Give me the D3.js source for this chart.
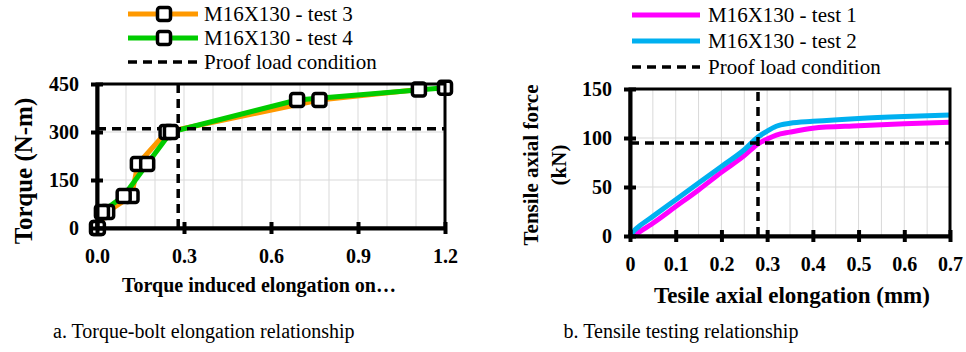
<!DOCTYPE html>
<html>
<head>
<meta charset="utf-8">
<script src="https://cdn.jsdelivr.net/npm/d3@7"></script>
<style>
  body { margin: 0; background: #fff; }
  svg, svg text { font-family: "Liberation Serif", "Times New Roman", serif; fill: #000; }
  .tick text { font-weight: bold; font-size: 20px; font-family: "Liberation Serif", serif; }
  .grid-line { stroke: #d9d9d9; stroke-width: 1; }
  .proof-line { stroke: #000; stroke-width: 3.5; stroke-dasharray: 9 6; fill: none; }
</style>
</head>
<body>
<div id="chart"></div>
<script>
// ---- data: torque vs elongation (left panel) ----
const test3Elong = [0, 0.035, 0.119, 0.141, 0.24, 0.767, 1.11];
const test4Elong = [0.003, 0.017, 0.092, 0.173, 0.255, 0.69, 1.2];
const test3Torque = [0, 50, 100, 200, 300, 400, 433];
const test4Torque = [0, 50, 100, 200, 300, 400, 438];
const torqueTicks = [0, 150, 300, 450];
const elongTicksA = [0, 0.3, 0.6, 0.9, 1.2];
const proofA = { x: 0.28, y: 310 };

// ---- data: tensile test (right panel) ----
const tensileElong = [0, 0.01, 0.02, 0.05, 0.1, 0.15, 0.2, 0.25, 0.28, 0.3, 0.32, 0.35, 0.4, 0.5, 0.6, 0.7];
const test1Force = [0, 1, 4, 13, 30, 47, 65, 82, 94, 99, 103, 106, 110, 112.5, 114.5, 116];
const test2Force = [0, 6, 10, 20, 37, 54, 71, 88, 101, 107, 112, 115, 117, 120, 122, 123.5];
const forceTicks = [0, 50, 100, 150];
const elongTicksB = [0, 0.1, 0.2, 0.3, 0.4, 0.5, 0.6, 0.7];
const proofB = { x: 0.28, y: 95 };

const width = 966;
const height = 352;
const serif = '"Liberation Serif", "Times New Roman", serif';

const svg = d3.select('#chart')
    .append('svg')
    .attr('width', width)
    .attr('height', height)
    .attr('font-family', serif);

function drawGrid(g, xScale, yScale, xGrid, yGrid) {
    const [x0, x1] = xScale.range();
    const [y0, y1] = yScale.range();

    g.selectAll('line.vgrid')
        .data(xGrid)
        .enter()
        .append('line')
        .classed('grid-line', true)
        .attr('x1', d => xScale(d)).attr('x2', d => xScale(d))
        .attr('y1', y0).attr('y2', y1);

    g.selectAll('line.hgrid')
        .data(yGrid)
        .enter()
        .append('line')
        .classed('grid-line', true)
        .attr('x1', x0).attr('x2', x1)
        .attr('y1', d => yScale(d)).attr('y2', d => yScale(d));
}

function finishAxes(g, xScale, yScale, xTicks, yTicks, xFmt) {
    const [x0, x1] = xScale.range();
    const [y0, y1] = yScale.range();

    // frame
    g.append('rect')
        .attr('x', x0).attr('y', y1)
        .attr('width', x1 - x0).attr('height', y0 - y1)
        .attr('fill', 'none')
        .attr('stroke', '#000')
        .attr('stroke-width', 3);

    const xAxis = d3.axisBottom(xScale)
        .tickValues(xTicks)
        .tickFormat(xFmt)
        .tickSizeInner(6)
        .tickSizeOuter(0)
        .tickPadding(10);

    const yAxis = d3.axisLeft(yScale)
        .tickValues(yTicks)
        .tickFormat(d3.format('d'))
        .tickSizeInner(6)
        .tickSizeOuter(0)
        .tickPadding(12);

    const gx = g.append('g')
        .attr('transform', 'translate(0,' + y0 + ')')
        .call(xAxis)
        .attr('font-family', serif)
        .attr('font-size', 20)
        .attr('font-weight', 'bold');
    gx.select('.domain').attr('stroke-width', 4);
    gx.selectAll('.tick line').attr('y1', -6).attr('y2', 6).attr('stroke-width', 4);
    gx.selectAll('.tick text').attr('dy', '0.95em');

    const gy = g.append('g')
        .attr('transform', 'translate(' + x0 + ',0)')
        .call(yAxis)
        .attr('font-family', serif)
        .attr('font-size', 20)
        .attr('font-weight', 'bold');
    gy.select('.domain').attr('stroke-width', 4);
    gy.selectAll('.tick line').attr('x1', -6).attr('x2', 6).attr('stroke-width', 4);
}

function proofLines(g, xScale, yScale, p) {
    const [x0, x1] = xScale.range();
    const [y0, y1] = yScale.range();
    g.append('line')
        .classed('proof-line', true)
        .attr('x1', xScale(p.x)).attr('x2', xScale(p.x))
        .attr('y1', y0).attr('y2', y1);
    g.append('line')
        .classed('proof-line', true)
        .attr('x1', x0).attr('x2', x1)
        .attr('y1', yScale(p.y)).attr('y2', yScale(p.y));
}

function marker(g, x, y) {
    g.append('rect')
        .attr('x', x - 6.5).attr('y', y - 6.5)
        .attr('width', 13).attr('height', 13)
        .attr('rx', 2.5)
        .attr('fill', '#fff')
        .attr('stroke', '#000')
        .attr('stroke-width', 3.5);
}

// ================= Panel a =================
const gA = svg.append('g');

const xA = d3.scaleLinear().domain([0, 1.2]).range([97, 445]);
const yA = d3.scaleLinear().domain([0, 450]).range([228, 84]);

drawGrid(gA, xA, yA, d3.range(1, 12).map(i => i / 10), [150, 300]);

const seriesA = [
    { name: 'M16X130 - test 3', color: '#FF9900', xs: test3Elong, ys: test3Torque },
    { name: 'M16X130 - test 4', color: '#00CC00', xs: test4Elong, ys: test4Torque }
];

const lineA = d3.line()
    .x(d => xA(d[0]))
    .y(d => yA(d[1]));

seriesA.forEach(s => {
    gA.append('path')
        .datum(d3.zip(s.xs, s.ys))
        .attr('d', lineA)
        .attr('fill', 'none')
        .attr('stroke', s.color)
        .attr('stroke-width', 5)
        .attr('stroke-linejoin', 'round');
});

proofLines(gA, xA, yA, proofA);

seriesA.forEach(s => {
    d3.zip(s.xs, s.ys).forEach(d => marker(gA, xA(d[0]), yA(d[1])));
});

finishAxes(gA, xA, yA, elongTicksA, torqueTicks, d3.format('.1f'));

// axis titles
gA.append('text')
    .attr('transform', 'translate(32,171) rotate(-90)')
    .attr('text-anchor', 'middle')
    .style('font-weight', 'bold')
    .style('font-size', '25px')
    .text('Torque (N-m)');

gA.append('text')
    .attr('x', 259).attr('y', 292)
    .attr('text-anchor', 'middle')
    .style('font-weight', 'bold')
    .style('font-size', '20px')
    .text('Torque induced elongation on…');

// legend
const legA = [
    { label: seriesA[0].name, color: seriesA[0].color, dash: false },
    { label: seriesA[1].name, color: seriesA[1].color, dash: false },
    { label: 'Proof load condition', color: '#000', dash: true }
];
legA.forEach((d, i) => {
    const y = 14 + i * 24;
    gA.append('line')
        .attr('x1', 128).attr('x2', 198)
        .attr('y1', y).attr('y2', y)
        .attr('stroke', d.color)
        .attr('stroke-width', d.dash ? 3.5 : 5)
        .attr('stroke-dasharray', d.dash ? '9 6' : null);
    if (!d.dash) marker(gA, 164, y);
    gA.append('text')
        .attr('x', 204).attr('y', y + 7)
        .style('font-size', '21px')
        .text(d.label);
});

gA.append('text')
    .attr('x', 53).attr('y', 338)
    .style('font-size', '20px')
    .text('a. Torque-bolt elongation relationship');

// ================= Panel b =================
const gB = svg.append('g');

const xB = d3.scaleLinear().domain([0, 0.7]).range([630, 950]);
const yB = d3.scaleLinear().domain([0, 150]).range([236, 89]);

drawGrid(gB, xB, yB, d3.range(1, 14).map(i => i * 0.05), [50, 100]);

const seriesB = [
    { name: 'M16X130 - test 1', color: '#FF00FF', ys: test1Force },
    { name: 'M16X130 - test 2', color: '#00B0F0', ys: test2Force }
];

const lineB = d3.line()
    .x(d => xB(d[0]))
    .y(d => yB(d[1]))
    .curve(d3.curveMonotoneX);

seriesB.forEach(s => {
    gB.append('path')
        .datum(d3.zip(tensileElong, s.ys))
        .attr('d', lineB)
        .attr('fill', 'none')
        .attr('stroke', s.color)
        .attr('stroke-width', 5)
        .attr('stroke-linejoin', 'round');
});

proofLines(gB, xB, yB, proofB);

finishAxes(gB, xB, yB, elongTicksB, forceTicks, d => d === 0 ? '0' : d3.format('.1f')(d));

gB.append('text')
    .attr('transform', 'translate(538,165) rotate(-90)')
    .attr('text-anchor', 'middle')
    .style('font-weight', 'bold')
    .style('font-size', '21px')
    .text('Tensile axial force');

gB.append('text')
    .attr('transform', 'translate(566,165) rotate(-90)')
    .attr('text-anchor', 'middle')
    .style('font-weight', 'bold')
    .style('font-size', '21px')
    .text('(kN)');

gB.append('text')
    .attr('x', 792).attr('y', 303)
    .attr('text-anchor', 'middle')
    .style('font-weight', 'bold')
    .style('font-size', '23px')
    .text('Tesile axial elongation (mm)');

const legB = [
    { label: seriesB[0].name, color: seriesB[0].color, dash: false },
    { label: seriesB[1].name, color: seriesB[1].color, dash: false },
    { label: 'Proof load condition', color: '#000', dash: true }
];
legB.forEach((d, i) => {
    const y = 15 + i * 26;
    gB.append('line')
        .attr('x1', 632).attr('x2', 700)
        .attr('y1', y).attr('y2', y)
        .attr('stroke', d.color)
        .attr('stroke-width', d.dash ? 3.5 : 5)
        .attr('stroke-dasharray', d.dash ? '9 6' : null);
    gB.append('text')
        .attr('x', 708).attr('y', y + 7)
        .style('font-size', '21px')
        .text(d.label);
});

gB.append('text')
    .attr('x', 681).attr('y', 338)
    .attr('text-anchor', 'middle')
    .style('font-size', '20px')
    .text('b. Tensile testing relationship');
</script>
</body>
</html>
